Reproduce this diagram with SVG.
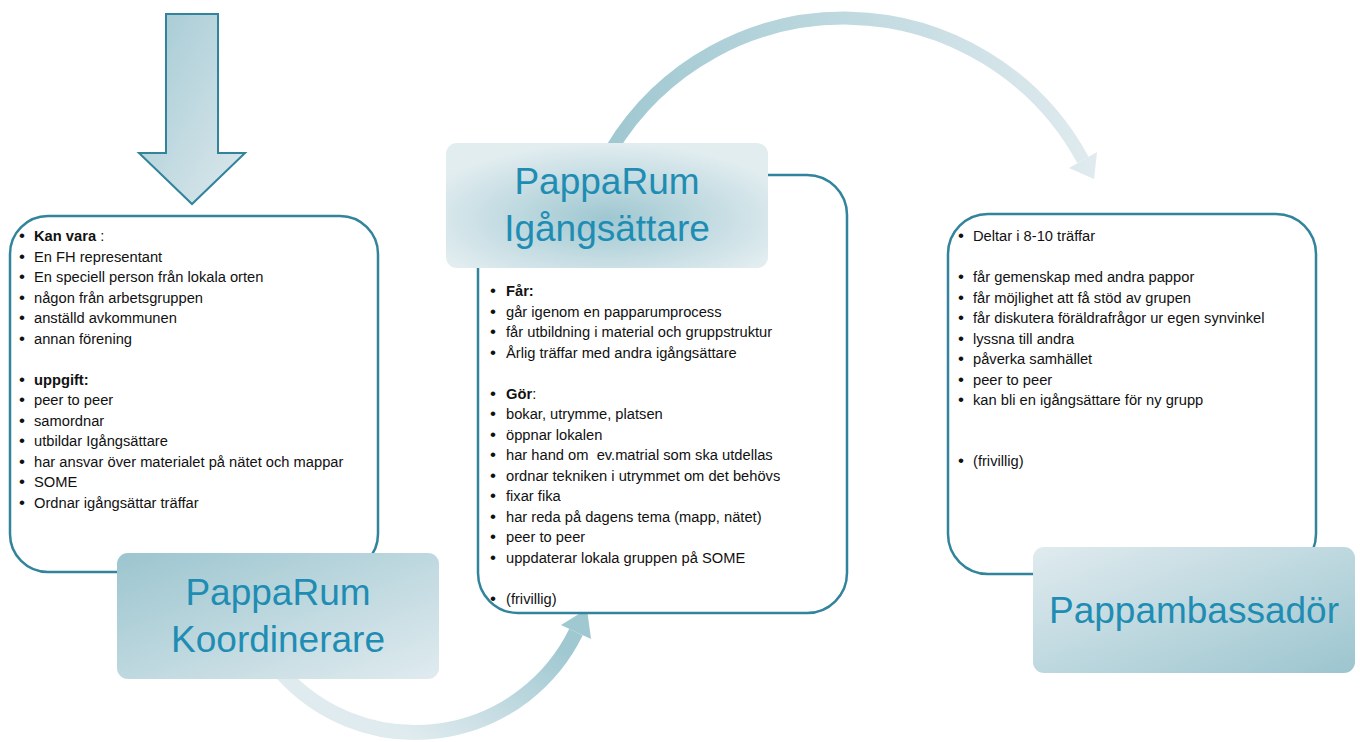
<svg xmlns="http://www.w3.org/2000/svg" width="1360" height="742" viewBox="0 0 1360 742">
<defs>
<style>
.box{fill:#ffffff;stroke:#31849b;stroke-width:2.5}
.lbl{font-family:"Liberation Sans",Arial,sans-serif;font-size:37px;fill:#1f8db3;text-anchor:middle}
.t{font-family:"Liberation Sans",Arial,sans-serif;font-size:14.7px;fill:#111111}
.b{font-weight:bold}
.u{font-size:17px}
</style>
<linearGradient id="gDown" x1="0" y1="0" x2="1" y2="1">
<stop offset="0" stop-color="#a3c9d3"/><stop offset="1" stop-color="#dde9ed"/>
</linearGradient>
<linearGradient id="gKoord" x1="0" y1="0" x2="1" y2="1">
<stop offset="0" stop-color="#9cc5cf"/><stop offset="1" stop-color="#e0ebef"/>
</linearGradient>
<linearGradient id="gAmb" x1="0" y1="0" x2="1" y2="1">
<stop offset="0" stop-color="#e0ebef"/><stop offset="1" stop-color="#9cc5cf"/>
</linearGradient>
<radialGradient id="gIg" cx="0.5" cy="0.6" r="0.6">
<stop offset="0" stop-color="#9fc7d1"/><stop offset="1" stop-color="#e2edf0"/>
</radialGradient>
<linearGradient id="gTop" gradientUnits="userSpaceOnUse" x1="610" y1="0" x2="1100" y2="0">
<stop offset="0" stop-color="#a0c8d1"/><stop offset="1" stop-color="#e0ebef"/>
</linearGradient>
<linearGradient id="gBot" gradientUnits="userSpaceOnUse" x1="500" y1="610" x2="420" y2="742">
<stop offset="0" stop-color="#a0c8d1"/><stop offset="1" stop-color="#e0ebef"/>
</linearGradient>
</defs>
<rect width="1360" height="742" fill="#ffffff"/>

<g id="connectors">
<polygon points="166,14 218,14 218,153 245,153 192,204 139,153 166,153" fill="url(#gDown)" stroke="#31849b" stroke-width="2"/>
<path d="M 611 150 A 272 272 0 0 1 1083 160" fill="none" stroke="url(#gTop)" stroke-width="13"/>
<polygon points="1097,152 1069,168 1094,179" fill="url(#gTop)"/>
<path d="M 281 672 A 179 179 0 0 0 576 632" fill="none" stroke="url(#gBot)" stroke-width="15"/>
<polygon points="561,625 591,639 587,609" fill="url(#gBot)"/>
</g>

<g id="koordinerare">
<rect class="box" x="10" y="216" width="368" height="356" rx="38" ry="38"/>
<text class="t"><tspan x="19" y="241" class="u">•</tspan><tspan x="34" y="241" class="b">Kan vara</tspan><tspan> :</tspan></text>
<text class="t"><tspan x="19" y="261.5" class="u">•</tspan><tspan x="34" y="261.5">En FH representant</tspan></text>
<text class="t"><tspan x="19" y="282" class="u">•</tspan><tspan x="34" y="282">En speciell person från lokala orten</tspan></text>
<text class="t"><tspan x="19" y="302.5" class="u">•</tspan><tspan x="34" y="302.5">någon från arbetsgruppen</tspan></text>
<text class="t"><tspan x="19" y="323" class="u">•</tspan><tspan x="34" y="323">anställd avkommunen</tspan></text>
<text class="t"><tspan x="19" y="343.5" class="u">•</tspan><tspan x="34" y="343.5">annan förening</tspan></text>
<text class="t"><tspan x="19" y="384.5" class="u">•</tspan><tspan x="34" y="384.5" class="b">uppgift:</tspan></text>
<text class="t"><tspan x="19" y="405" class="u">•</tspan><tspan x="34" y="405">peer to peer</tspan></text>
<text class="t"><tspan x="19" y="425.5" class="u">•</tspan><tspan x="34" y="425.5">samordnar</tspan></text>
<text class="t"><tspan x="19" y="446" class="u">•</tspan><tspan x="34" y="446">utbildar Igångsättare</tspan></text>
<text class="t"><tspan x="19" y="466.5" class="u">•</tspan><tspan x="34" y="466.5">har ansvar över materialet på nätet och mappar</tspan></text>
<text class="t"><tspan x="19" y="487" class="u">•</tspan><tspan x="34" y="487">SOME</tspan></text>
<text class="t"><tspan x="19" y="507.5" class="u">•</tspan><tspan x="34" y="507.5">Ordnar igångsättar träffar</tspan></text>
<rect x="117" y="553" width="322" height="126" rx="11" ry="11" fill="url(#gKoord)"/>
<text class="lbl" x="278" y="605">PappaRum</text>
<text class="lbl" x="278" y="652">Koordinerare</text>
</g>

<g id="igangsattare">
<rect class="box" x="478" y="175" width="369" height="438" rx="40" ry="40"/>
<text class="t"><tspan x="490" y="296" class="u">•</tspan><tspan x="506" y="296" class="b">Får:</tspan></text>
<text class="t"><tspan x="490" y="316.5" class="u">•</tspan><tspan x="506" y="316.5">går igenom en papparumprocess</tspan></text>
<text class="t"><tspan x="490" y="337" class="u">•</tspan><tspan x="506" y="337">får utbildning i material och gruppstruktur</tspan></text>
<text class="t"><tspan x="490" y="357.5" class="u">•</tspan><tspan x="506" y="357.5">Årlig träffar med andra igångsättare</tspan></text>
<text class="t"><tspan x="490" y="398.5" class="u">•</tspan><tspan x="506" y="398.5" class="b">Gör</tspan><tspan>:</tspan></text>
<text class="t"><tspan x="490" y="419" class="u">•</tspan><tspan x="506" y="419">bokar, utrymme, platsen</tspan></text>
<text class="t"><tspan x="490" y="439.5" class="u">•</tspan><tspan x="506" y="439.5">öppnar lokalen</tspan></text>
<text class="t" xml:space="preserve"><tspan x="490" y="460" class="u">•</tspan><tspan x="506" y="460">har hand om  ev.matrial som ska utdellas</tspan></text>
<text class="t"><tspan x="490" y="480.5" class="u">•</tspan><tspan x="506" y="480.5">ordnar tekniken i utrymmet om det behövs</tspan></text>
<text class="t"><tspan x="490" y="501" class="u">•</tspan><tspan x="506" y="501">fixar fika</tspan></text>
<text class="t"><tspan x="490" y="521.5" class="u">•</tspan><tspan x="506" y="521.5">har reda på dagens tema (mapp, nätet)</tspan></text>
<text class="t"><tspan x="490" y="542" class="u">•</tspan><tspan x="506" y="542">peer to peer</tspan></text>
<text class="t"><tspan x="490" y="562.5" class="u">•</tspan><tspan x="506" y="562.5">uppdaterar lokala gruppen på SOME</tspan></text>
<text class="t"><tspan x="490" y="603.5" class="u">•</tspan><tspan x="506" y="603.5">(frivillig)</tspan></text>
<rect x="446" y="143" width="322" height="125" rx="11" ry="11" fill="url(#gIg)"/>
<text class="lbl" x="607" y="194">PappaRum</text>
<text class="lbl" x="607" y="241">Igångsättare</text>
</g>

<g id="pappambassador">
<rect class="box" x="948" y="214" width="368" height="360" rx="40" ry="40"/>
<text class="t"><tspan x="958" y="241" class="u">•</tspan><tspan x="973" y="241">Deltar i 8-10 träffar</tspan></text>
<text class="t"><tspan x="958" y="282" class="u">•</tspan><tspan x="973" y="282">får gemenskap med andra pappor</tspan></text>
<text class="t"><tspan x="958" y="302.5" class="u">•</tspan><tspan x="973" y="302.5">får möjlighet att få stöd av grupen</tspan></text>
<text class="t"><tspan x="958" y="323" class="u">•</tspan><tspan x="973" y="323">får diskutera föräldrafrågor ur egen synvinkel</tspan></text>
<text class="t"><tspan x="958" y="343.5" class="u">•</tspan><tspan x="973" y="343.5">lyssna till andra</tspan></text>
<text class="t"><tspan x="958" y="364" class="u">•</tspan><tspan x="973" y="364">påverka samhället</tspan></text>
<text class="t"><tspan x="958" y="384.5" class="u">•</tspan><tspan x="973" y="384.5">peer to peer</tspan></text>
<text class="t"><tspan x="958" y="405" class="u">•</tspan><tspan x="973" y="405">kan bli en igångsättare för ny grupp</tspan></text>
<text class="t"><tspan x="958" y="466" class="u">•</tspan><tspan x="973" y="466">(frivillig)</tspan></text>
<rect x="1033" y="547" width="322" height="126" rx="11" ry="11" fill="url(#gAmb)"/>
<text class="lbl" x="1194" y="623">Pappambassadör</text>
</g>
</svg>
